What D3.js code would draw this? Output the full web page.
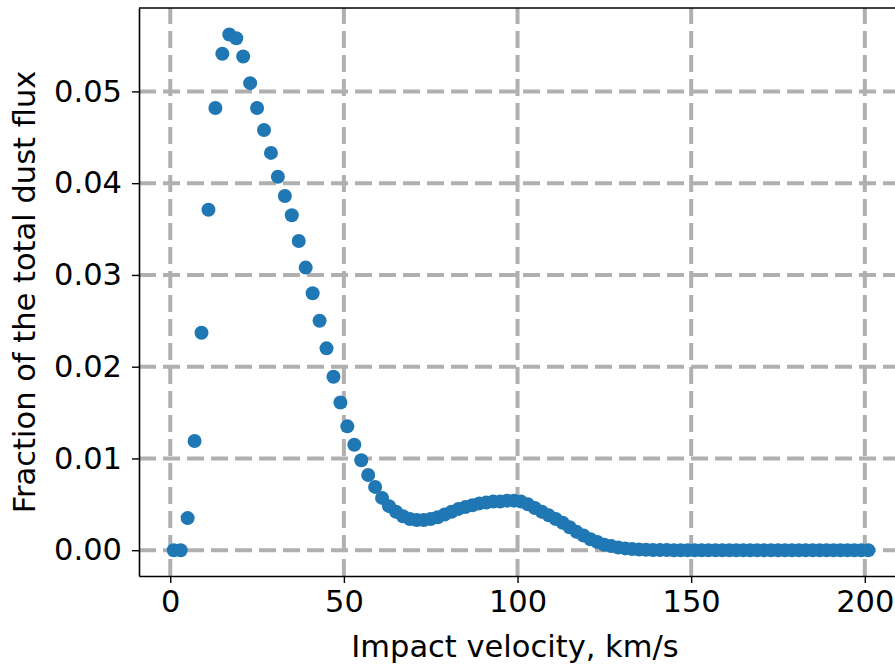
<!DOCTYPE html>
<html lang="en">
<head>
<meta charset="UTF-8">
<title>Impact velocity distribution</title>
<script src="https://cdn.jsdelivr.net/npm/d3@7"></script>
<style>
  body { margin: 0; background: #fff; }
  svg { display: block; font-family: "DejaVu Sans", sans-serif; }
</style>
</head>
<body>
<svg id="viz" width="895" height="664"></svg>
<script>
  // impact velocity bins, km/s
  const velocity = d3.range(1, 202, 2);

  // fraction of the total dust flux per bin
  const fraction = [
    0.0000, 0.0000, 0.0035, 0.0119, 0.0237, 0.0371, 0.0482, 0.0541, 0.0562, 0.0558,
    0.0538, 0.0509, 0.0482, 0.0458, 0.0433, 0.0407, 0.0386, 0.0365, 0.0337, 0.0308,
    0.0280, 0.0250, 0.0220, 0.0189, 0.0161, 0.0135, 0.0115, 0.0098, 0.0082, 0.0069,
    0.0057, 0.0048, 0.0042, 0.0037, 0.0034, 0.0033, 0.0033, 0.0034, 0.0036, 0.0039,
    0.0042, 0.0045, 0.0047, 0.0049, 0.0051, 0.0052, 0.0053, 0.0053, 0.0054, 0.0054,
    0.0053, 0.0050, 0.0046, 0.0042, 0.0038, 0.0034, 0.0030, 0.0025, 0.0020, 0.0016,
    0.0012, 0.0009, 0.0006, 0.00045, 0.0003, 0.0002, 0.00012, 0.00008, 0.00005, 0.00003,
    0.00002, 0.00001, 0, 0, 0, 0, 0, 0, 0, 0,
    0, 0, 0, 0, 0, 0, 0, 0, 0, 0,
    0, 0, 0, 0, 0, 0, 0, 0, 0, 0,
    0
  ];

  const xTicks = [0, 50, 100, 150, 200];
  const yTicks = [0, 0.01, 0.02, 0.03, 0.04, 0.05];

  const points = velocity.map((v, i) => ({ v: v, f: fraction[i] }));

  const plotLeft = 139, plotRight = 903, plotTop = 8, plotBottom = 576;
  const fontSize = 30.5;

  const svg = d3.select("#viz");

  const x = d3.scaleLinear().domain([-9, 211]).range([plotLeft, plotRight]);
  const y = d3.scaleLinear().domain([-0.00281, 0.05909]).range([plotBottom, plotTop]);

  // grid
  const grid = svg.append("g")
    .attr("stroke", "#b0b0b0")
    .attr("stroke-width", 4)
    .attr("stroke-dasharray", "17 7");

  grid.selectAll(".vgrid")
    .data(xTicks)
    .join("line")
      .attr("class", "vgrid")
      .attr("x1", d => x(d)).attr("x2", d => x(d))
      .attr("y1", plotBottom).attr("y2", plotTop);

  grid.selectAll(".hgrid")
    .data(yTicks)
    .join("line")
      .attr("class", "hgrid")
      .attr("x1", plotLeft).attr("x2", plotRight)
      .attr("y1", d => y(d)).attr("y2", d => y(d));

  // markers
  svg.append("g")
    .selectAll("circle")
    .data(points)
    .join("circle")
      .attr("cx", d => x(d.v))
      .attr("cy", d => y(d.f))
      .attr("r", 7)
      .attr("fill", "#1f77b4");

  // axes
  const xAxis = svg.append("g")
    .attr("transform", `translate(0,${plotBottom})`)
    .call(d3.axisBottom(x).tickValues(xTicks).tickSizeInner(7).tickSizeOuter(0).tickPadding(7).tickFormat(d3.format("d")));

  const yAxis = svg.append("g")
    .attr("transform", `translate(${plotLeft},0)`)
    .call(d3.axisLeft(y).tickValues(yTicks).tickSizeInner(7).tickSizeOuter(0).tickPadding(10).tickFormat(d3.format(".2f")));

  [xAxis, yAxis].forEach(a => {
    a.select(".domain").attr("stroke", "#000").attr("stroke-width", 1.6);
    a.selectAll(".tick line").attr("stroke", "#000").attr("stroke-width", 1.4);
    a.selectAll(".tick text")
      .attr("fill", "#000")
      .style("font-family", "'DejaVu Sans', sans-serif")
      .style("font-size", fontSize + "px");
  });

  // top spine
  svg.append("line")
    .attr("x1", plotLeft).attr("x2", plotRight)
    .attr("y1", plotTop).attr("y2", plotTop)
    .attr("stroke", "#000").attr("stroke-width", 1.6);

  // axis titles
  svg.append("text")
    .attr("x", (plotLeft + plotRight) / 2 - 6)
    .attr("y", 657)
    .attr("text-anchor", "middle")
    .attr("font-size", fontSize)
    .text("Impact velocity, km/s");

  svg.append("text")
    .attr("transform", `translate(35,${(plotTop + plotBottom) / 2}) rotate(-90)`)
    .attr("text-anchor", "middle")
    .attr("font-size", fontSize)
    .text("Fraction of the total dust flux");
</script>
</body>
</html>
